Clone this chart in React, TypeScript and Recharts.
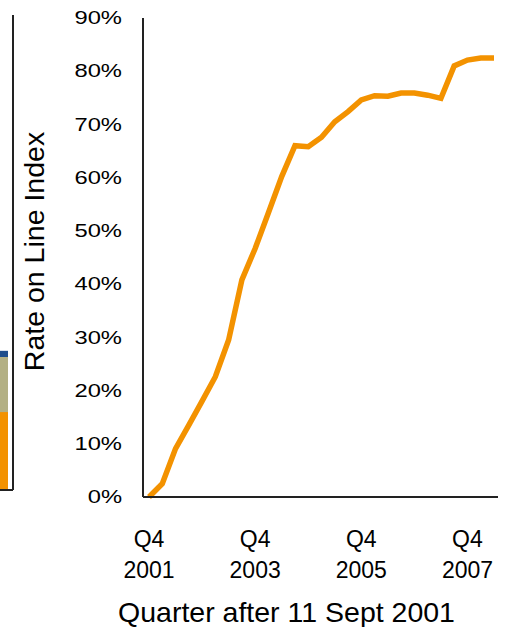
import React from 'react';
import { LineChart, Line, XAxis, YAxis, Label, BarChart, Bar } from 'recharts';

// Quarterly rate-on-line index, Q4 2001 through Q2 2008 (percent)
const quarters = [
  'Q4 2001', 'Q1 2002', 'Q2 2002', 'Q3 2002', 'Q4 2002', 'Q1 2003', 'Q2 2003',
  'Q3 2003', 'Q4 2003', 'Q1 2004', 'Q2 2004', 'Q3 2004', 'Q4 2004', 'Q1 2005',
  'Q2 2005', 'Q3 2005', 'Q4 2005', 'Q1 2006', 'Q2 2006', 'Q3 2006', 'Q4 2006',
  'Q1 2007', 'Q2 2007', 'Q3 2007', 'Q4 2007', 'Q1 2008', 'Q2 2008',
];
const rateOnLine = [
  0, 2.5, 9.1, 13.5, 18, 22.6, 29.5, 40.8, 46.7, 53.4, 60.2, 66, 65.8, 67.6,
  70.5, 72.4, 74.6, 75.4, 75.3, 75.9, 75.9, 75.5, 74.9, 81, 82.1, 82.5, 82.5,
];
const yTicks = [0, 10, 20, 30, 40, 50, 60, 70, 80, 90];

// Edge of the neighbouring stacked-bar panel that peeks in on the left
const sideSegments = ['base', 'middle', 'top'];
const sideValues = [16.4, 11.6, 1.3];
const sideColors = ['#F39200', '#B3B084', '#1F4E8C'];

const FONT = '"Liberation Sans", Arial, sans-serif';
const ORANGE = '#F39200';
const AXIS = '#222';

const chartData = quarters.map((q, i) => ({ q, rate: rateOnLine[i] }));
const sideData = [
  sideSegments.reduce((acc, k, i) => ({ ...acc, [k]: sideValues[i] }), { name: 'edge' } as Record<string, any>),
];

const QuarterTick = ({ x, y, payload }: any) => {
  const [q, yr] = String(payload.value).split(' ');
  return (
    <g fontFamily={FONT} fontSize={23} fill="#000">
      <text x={x} y={y + 50} textAnchor="middle">{q}</text>
      <text x={x} y={y + 81} textAnchor="middle">{yr}</text>
    </g>
  );
};

// percent labels are set slightly wide, anchored on their right edge
const PercentTick = ({ x, y, payload }: any) => (
  <text
    transform={`translate(${x}, ${y}) scale(1.25, 1)`}
    textAnchor="end"
    dominantBaseline="central"
    fontFamily={FONT}
    fontSize={19}
    fill="#000"
  >
    {`${payload.value}%`}
  </text>
);

export default function App() {
  return (
    <div style={{ position: 'relative', width: 506, height: 627, background: '#fff', overflow: 'hidden' }}>
      <style>{'body{margin:0}'}</style>

      <div style={{ position: 'absolute', left: -12, top: 0 }}>
        <BarChart width={26} height={500} data={sideData} margin={{ top: 15, right: 0, left: 0, bottom: 9 }} barCategoryGap={5}>
          <XAxis dataKey="name" height={1} tick={false} tickLine={false} stroke={AXIS} strokeWidth={2} />
          <YAxis orientation="right" width={1} domain={[0, 100]} tick={false} tickLine={false} stroke={AXIS} strokeWidth={2} />
          {sideSegments.map((k, i) => (
            <Bar key={k} dataKey={k} stackId="s" fill={sideColors[i]} isAnimationActive={false} />
          ))}
        </BarChart>
      </div>

      <div style={{ position: 'absolute', left: 0, top: 0 }}>
        <LineChart width={506} height={627} data={chartData} margin={{ top: 18, right: 8, left: 0, bottom: 0 }}>
          <XAxis
            dataKey="q"
            height={130}
            interval={7}
            padding={{ left: 6, right: 4 }}
            tickLine={false}
            tickSize={0}
            tickMargin={0}
            tick={<QuarterTick />}
            stroke={AXIS}
            strokeWidth={2}
          >
            <Label
              content={({ viewBox }: any) => (
                <text
                  x={viewBox.x + viewBox.width / 2 - 34}
                  y={622}
                  textAnchor="middle"
                  fontFamily={FONT}
                  fontSize={28.5}
                  fill="#000"
                >
                  Quarter after 11 Sept 2001
                </text>
              )}
            />
          </XAxis>
          <YAxis
            width={143}
            domain={[0, 90]}
            ticks={yTicks}
            tickLine={false}
            tickSize={0}
            tickMargin={21}
            tick={<PercentTick />}
            stroke={AXIS}
            strokeWidth={2}
          >
            <Label
              content={({ viewBox }: any) => {
                const cx = 34;
                const cy = viewBox.y + viewBox.height / 2 - 6;
                return (
                  <text
                    x={cx}
                    y={cy}
                    transform={`rotate(-90, ${cx}, ${cy})`}
                    textAnchor="middle"
                    dominantBaseline="central"
                    fontFamily={FONT}
                    fontSize={28.5}
                    fill="#000"
                  >
                    Rate on Line Index
                  </text>
                );
              }}
            />
          </YAxis>
          <Line
            type="linear"
            dataKey="rate"
            stroke={ORANGE}
            strokeWidth={5.5}
            dot={false}
            isAnimationActive={false}
          />
        </LineChart>
      </div>
    </div>
  );
}
